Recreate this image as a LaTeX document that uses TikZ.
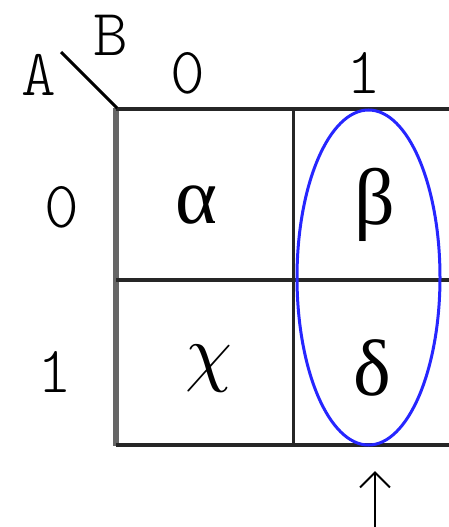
\documentclass[tikz,border=0pt]{standalone}
\usepackage{fontspec}
\setmainfont{Liberation Serif}
\setmonofont{Latin Modern Mono Light}
\usetikzlibrary{positioning, arrows.meta, shapes.geometric}

\begin{document}
\begin{tikzpicture}[x=1pt, y=-1pt,
    gridline/.style={draw=black!85, line width=3.5pt},
    edgeline/.style={draw=black!60, line width=6.5pt},
    varlabel/.style={font=\fontsize{66}{76}\selectfont\ttfamily, inner sep=0pt},
    cellval/.style={font=\fontsize{80}{90}\selectfont, inner sep=0pt},
    grouploop/.style={ellipse, draw=blue!85!white, line width=3pt, inner sep=0pt,
      minimum width=143pt, minimum height=335pt},
  ]
  \useasboundingbox (0,0) rectangle (449,527);

  % map frame: rows A=0/1, columns B=0/1 (right edge is cut off)
  \draw[edgeline] (116,108) -- (116,446);
  \draw[gridline] (116,109) -- (449,109);
  \draw[gridline] (116,280) -- (449,280);
  \draw[gridline] (116,445) -- (449,445);
  \draw[gridline, line width=3pt] (293,109) -- (293,445);
  \draw[line width=3pt] (61,52) -- (117,108);

  % variable names and values
  \node[varlabel] (varA) at (39,75) {A};
  \node[varlabel] (varB) at (111,35) {B};
  \node[varlabel] (colzero) at (188,73) {0};
  \node[varlabel] (colone) at (364,73) {1};
  \node[varlabel] (rowzero) at (62,207) {0};
  \node[varlabel] (rowone) at (55,372) {1};

  % cell entries
  \node[cellval] (cellAlpha) at (196,205) {α};
  \node[cellval] (cellBeta) at (375,205) {β};
  \node[inner sep=0pt] (cellChi) at (209,369) {\scalebox{7.5}{$\chi$}};
  \node[cellval] (cellDelta) at (372,368) {δ};

  % grouping of the B=1 column
  \node[grouploop] (loopB) at (368.5,277.5) {};

  % pointer to the group
  \coordinate (arrowfoot) at (375,527);
  \coordinate (arrowtip) at (375,471);
  \draw[line width=2pt, -{Straight Barb[length=15pt, width=30pt, line width=2pt]}]
    (arrowfoot) -- (arrowtip);
\end{tikzpicture}
\end{document}
